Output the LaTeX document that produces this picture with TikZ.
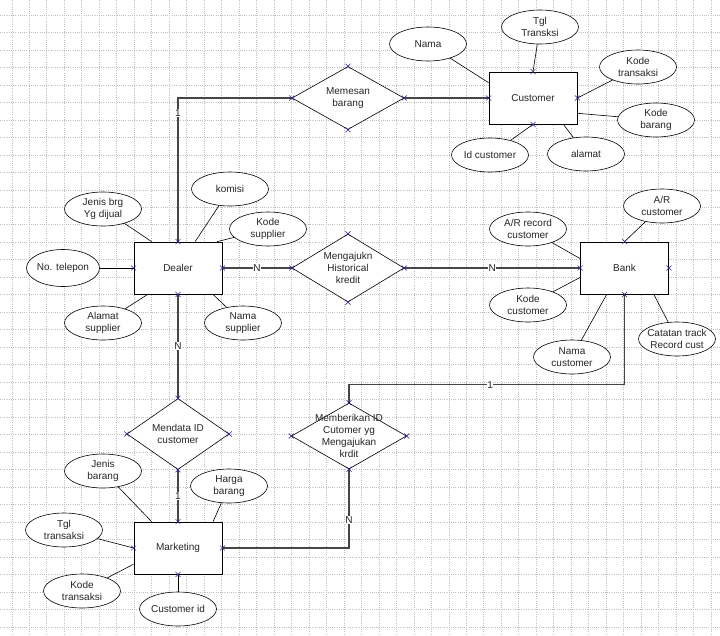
\documentclass[tikz,border=0pt]{standalone}
\usepackage{fontspec}
\setmainfont{Liberation Sans}
\usepackage{tikz}
\usetikzlibrary{positioning, shapes.geometric, shapes.misc}
\definecolor{gridgray}{RGB}{190,190,190}
\definecolor{markblue}{RGB}{30,30,150}
\definecolor{linkgray}{RGB}{70,70,70}
\tikzset{
  gridline/.style={draw=gridgray, line width=0.6pt, dash pattern=on 1pt off 1.2pt},
  xmk/.style={draw=markblue, cross out, line width=0.5pt, minimum size=4.5pt, inner sep=0pt}
}

\begin{document}
\begin{tikzpicture}[
    x=1pt, y=-1pt,
    font=\fontsize{10}{12}\selectfont,
    entity/.style={
        draw, fill=white, line width=0.8pt, text=black!85,
        minimum width=88pt, minimum height=52pt, inner sep=0pt
      },
    attrib/.style={
        draw, fill=white, ellipse, line width=0.6pt, align=center, text=black!85,
        minimum width=77pt, minimum height=34pt, inner xsep=-4pt, inner ysep=0pt
      },
    relation/.style={draw, fill=white, diamond, line width=0.6pt, inner sep=0pt},
    reltext/.style={align=center, text=black!85},
    attrline/.style={line width=0.6pt},
    link/.style={draw=linkgray, line width=1.1pt},
    card/.style={fill=white, inner sep=0.6pt, text=black!85}
  ]

  \fill[white] (0,0) rectangle (720,635);
  \useasboundingbox (0,0) rectangle (720,635);
  \foreach \i in {0,...,40}
    \draw[gridline] ({11.8+17.48*\i},0) -- ({11.8+17.48*\i},635);
  \foreach \j in {0,...,35}
    \draw[gridline] (0,{15+17.48*\j}) -- (720,{15+17.48*\j});

  \node[entity] (customer) at (533,98) {Customer};
  \node[entity] (dealer) at (178,268) {Dealer};
  \node[entity] (bank) at (624.5,268) {Bank};
  \node[entity] (marketing) at (178,548) {Marketing};

  \node[relation, minimum width=112pt, minimum height=63pt,
    label={[reltext]center:{Memesan\\barang}}] (memesan) at (348,98) {};
  \node[relation, minimum width=112pt, minimum height=68pt,
    label={[reltext]center:{Mengajukn\\Historical\\kredit}}] (mengajukn) at (348,268) {};
  \node[relation, minimum width=102pt, minimum height=71pt,
    label={[reltext]center:{Mendata ID\\customer}}] (mendata) at (178,434) {};
  \node[relation, minimum width=115pt, minimum height=66pt,
    label={[reltext]center:{Memberikan ID\\Cutomer yg\\Mengajukan\\krdit}}] (memberikan) at (349,436) {};

  \node[attrib] (cnama) at (428,44) {Nama};
  \node[attrib] (ctgl) at (540,27) {Tgl\\Transksi};
  \node[attrib] (ckdtr) at (638,67) {Kode\\transaksi};
  \node[attrib] (ckdbr) at (656,120) {Kode\\barang};
  \node[attrib] (cid) at (490,155) {Id customer};
  \node[attrib] (calamat) at (586,154) {alamat};

  \node[attrib] (dkomisi) at (230,189) {komisi};
  \node[attrib] (dkdsup) at (268,229) {Kode\\supplier};
  \node[attrib] (djenis) at (103,209) {Jenis brg\\Yg dijual};
  \node[attrib, minimum width=73pt, minimum height=37pt] (dtelp) at (63,268) {No. telepon};
  \node[attrib] (dalamat) at (103,323) {Alamat\\supplier};
  \node[attrib] (dnama) at (243,323) {Nama\\supplier};

  \node[attrib] (barcust) at (662,206) {A/R\\customer};
  \node[attrib] (barrec) at (528,229) {A/R record\\customer};
  \node[attrib] (bkode) at (528,305) {Kode\\customer};
  \node[attrib] (bnama) at (572,357) {Nama\\customer};
  \node[attrib] (bcatatan) at (677,339) {Catatan track\\Record cust};

  \node[attrib] (mjenis) at (103,471) {Jenis\\barang};
  \node[attrib] (mharga) at (229,486) {Harga\\barang};
  \node[attrib] (mtgl) at (64,530) {Tgl\\transaksi};
  \node[attrib] (mkode) at (82,591) {Kode\\transaksi};
  \node[attrib] (mcustid) at (178,609) {Customer id};

  \foreach \a/\e in {cnama/customer.161, ctgl/customer.north, ckdtr/customer.east,
      ckdbr/customer.-19, cid/customer.south, calamat/customer.-41,
      dkomisi/dealer.57, dkdsup/dealer.34, djenis/dealer.135, dtelp/dealer.west,
      dalamat/dealer.-139, dnama/dealer.-37,
      barcust/bank.north, barrec/bank.168, bkode/bank.-168, bnama/bank.-124, bcatatan/bank.-42,
      mjenis/marketing.135, mharga/marketing.37, mtgl/marketing.west,
      mkode/marketing.-160, mcustid/marketing.south}
    \draw[attrline] (\a) -- (\e);

  \draw[link] (memesan.west) -| node[card, pos=0.552] {1} (dealer.north);
  \draw[link] (memesan.east) -- (customer.west);
  \draw[link] (dealer.east) -- node[card] {N} (mengajukn.west);
  \draw[link] (mengajukn.east) -- node[card] {N} (bank.west);
  \draw[link] (dealer.south) -- node[card] {N} (mendata.north);
  \draw[link] (mendata.south) -- node[card] {1} (marketing.north);
  \draw[link] (bank.south) |- node[card, pos=0.744] {1} ([yshift=18pt]memberikan.north)
    -- (memberikan.north);
  \draw[link] (memberikan.south) |- node[card, pos=0.323] {N} (marketing.east);

  \foreach \n in {customer,dealer,bank,marketing,memesan,mengajukn,mendata,memberikan}
    \foreach \s in {north,south,east,west}
      \node[xmk] (\n-\s-x) at (\n.\s) {};

\end{tikzpicture}
\end{document}
